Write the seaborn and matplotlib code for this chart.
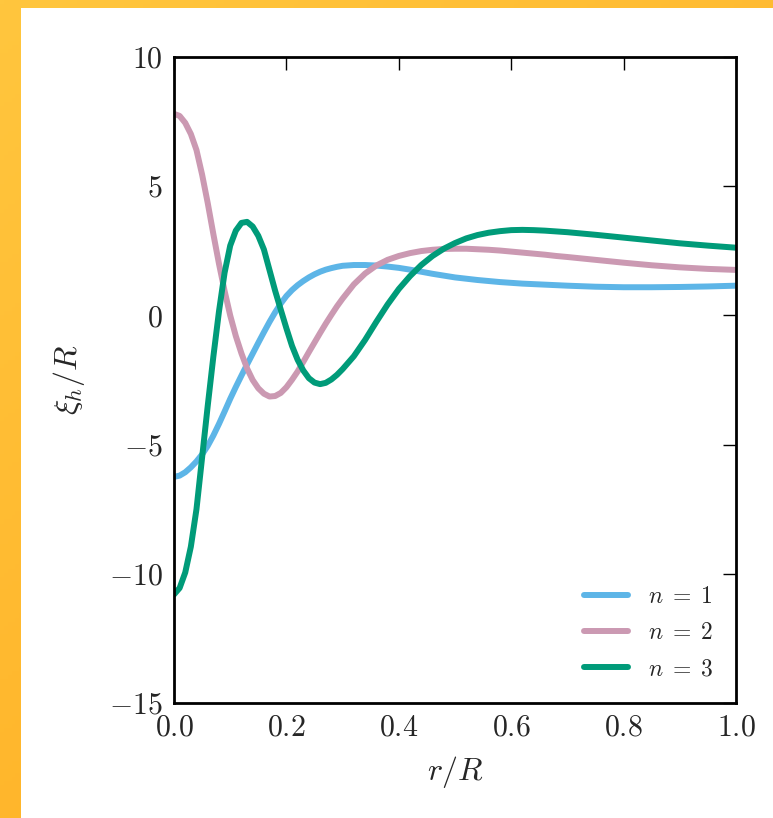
import numpy as np
import pandas as pd
import matplotlib
matplotlib.use("Agg")
import matplotlib.pyplot as plt
from matplotlib.patches import Rectangle
import seaborn as sns

# radial grid (r/R) and horizontal displacement for the three modes
r = [0.00, 0.01, 0.02, 0.03, 0.04, 0.05, 0.06, 0.07, 0.08, 0.09,
     0.10, 0.11, 0.12, 0.13, 0.14, 0.15, 0.16, 0.17, 0.18, 0.19,
     0.20, 0.21, 0.22, 0.23, 0.24, 0.25, 0.26, 0.27, 0.28, 0.29,
     0.30, 0.32, 0.34, 0.36, 0.38, 0.40, 0.42, 0.44, 0.46, 0.48,
     0.50, 0.52, 0.54, 0.56, 0.58, 0.60, 0.62, 0.64, 0.66, 0.68,
     0.70, 0.75, 0.80, 0.85, 0.90, 0.95, 1.00]

xi_n1 = [-6.25, -6.20, -6.07, -5.88, -5.65, -5.38, -5.05, -4.65, -4.20, -3.72,
         -3.23, -2.77, -2.33, -1.90, -1.48, -1.06, -0.65, -0.25, 0.12, 0.46,
         0.75, 0.98, 1.17, 1.33, 1.47, 1.59, 1.69, 1.77, 1.83, 1.88,
         1.92, 1.95, 1.95, 1.93, 1.89, 1.84, 1.77, 1.69, 1.61, 1.54,
         1.47, 1.42, 1.37, 1.33, 1.29, 1.26, 1.23, 1.21, 1.19, 1.17,
         1.15, 1.11, 1.09, 1.09, 1.10, 1.12, 1.15]

xi_n2 = [7.80, 7.72, 7.45, 7.02, 6.40, 5.45, 4.35, 3.15, 2.00, 0.95,
         0.00, -0.80, -1.47, -2.05, -2.50, -2.82, -3.03, -3.14, -3.12, -3.00,
         -2.78, -2.49, -2.17, -1.80, -1.42, -1.05, -0.68, -0.32, 0.02, 0.35,
         0.65, 1.20, 1.62, 1.93, 2.15, 2.30, 2.41, 2.49, 2.54, 2.57,
         2.58, 2.58, 2.56, 2.54, 2.51, 2.47, 2.43, 2.39, 2.35, 2.30,
         2.26, 2.15, 2.04, 1.94, 1.86, 1.80, 1.76]

xi_n3 = [-10.80, -10.55, -9.95, -8.95, -7.50, -5.50, -3.50, -1.60, 0.15, 1.65,
         2.70, 3.28, 3.58, 3.62, 3.44, 3.08, 2.55, 1.75, 0.95, 0.22,
         -0.50, -1.18, -1.72, -2.13, -2.43, -2.60, -2.66, -2.61, -2.48, -2.30,
         -2.08, -1.58, -0.95, -0.25, 0.42, 1.02, 1.52, 1.95, 2.30, 2.58,
         2.80, 2.98, 3.11, 3.20, 3.26, 3.30, 3.31, 3.30, 3.28, 3.25,
         3.22, 3.12, 3.01, 2.90, 2.79, 2.70, 2.62]

labels = [r"$n\;=\;1$", r"$n\;=\;2$", r"$n\;=\;3$"]
colors = ["#5DB5E7", "#CB99B2", "#009B79"]

df = pd.DataFrame({
    "r": r * 3,
    "xi": xi_n1 + xi_n2 + xi_n3,
    "mode": [labels[0]] * len(r) + [labels[1]] * len(r) + [labels[2]] * len(r),
})

sns.set_style("white")
plt.rcParams["font.family"] = "serif"
plt.rcParams["font.serif"] = ["cmr10", "DejaVu Serif"]
plt.rcParams["mathtext.fontset"] = "cm"
plt.rcParams["axes.formatter.use_mathtext"] = True
plt.rcParams["axes.unicode_minus"] = True

W, H = 773, 818
fig = plt.figure(figsize=(W / 100, H / 100), dpi=100)

# orange frame on the top / left edge
bg = fig.add_axes([0, 0, 1, 1], zorder=-1)
yy, xx = np.mgrid[0:1:200j, 0:1:200j]
c0 = np.array([255, 198, 62]) / 255
c1 = np.array([255, 172, 32]) / 255
t = np.clip(0.6 * yy + 0.4 * xx, 0, 1)[..., None]
bg.imshow(c0 * (1 - t) + c1 * t, extent=[0, 1, 0, 1], aspect="auto", origin="upper")
bg.add_patch(Rectangle((21 / W, 0), 1, 1 - 8 / H, color="white", lw=0))
bg.set_xlim(0, 1)
bg.set_ylim(0, 1)
bg.axis("off")

ax = fig.add_axes([174 / W, 1 - 703 / H, (736 - 174) / W, (703 - 57) / H])
sns.lineplot(data=df, x="r", y="xi", hue="mode", palette=colors, lw=4.3, ax=ax)

ax.set_xlim(0, 1)
ax.set_ylim(-15, 10)
ax.set_xticks([0, 0.2, 0.4, 0.6, 0.8, 1.0])
ax.set_yticks([-15, -10, -5, 0, 5, 10])
ax.tick_params(direction="in", length=9.5, width=1, top=True, right=True,
               labelsize=21.5, pad=8, color="black")
for s in ax.spines.values():
    s.set_linewidth(2)
    s.set_color("black")
ax.set_xlabel("$r/R$", fontsize=23, labelpad=9)
ax.set_ylabel(r"$\xi_h/R$", fontsize=23, labelpad=16)
ax.legend(title=None, loc="lower right", frameon=False, fontsize=17,
          handlelength=1.9, labelspacing=0.6, handletextpad=0.85,
          borderaxespad=0.55)

fig.savefig("out.png", dpi=100)
